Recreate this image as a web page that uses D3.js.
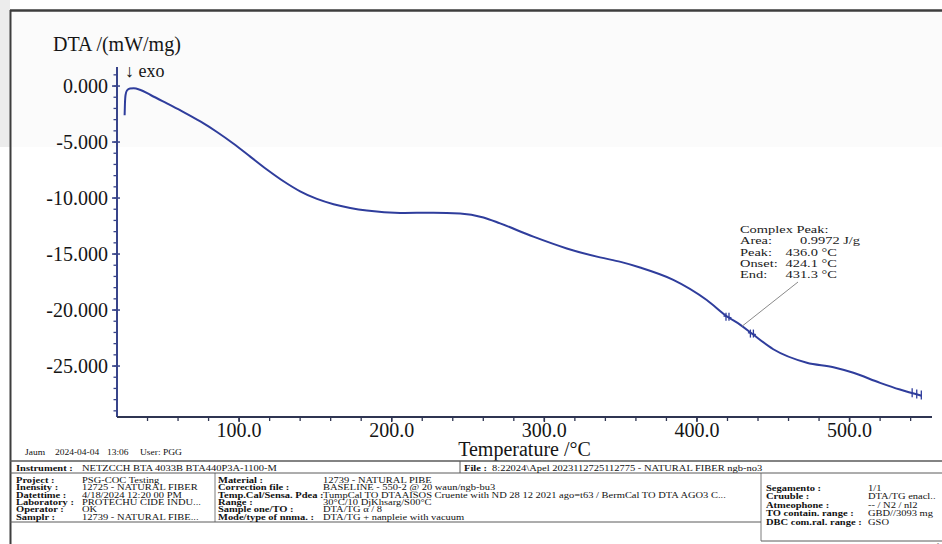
<!DOCTYPE html>
<html>
<head>
<meta charset="utf-8">
<script src="https://cdn.jsdelivr.net/npm/d3@7"></script>
<style>
    body { margin: 0; background: #ffffff; }
    svg { display: block; font-family: "Liberation Serif", "Times New Roman", serif; }
</style>
</head>
<body>
<div id="chart"></div>
<script>

var temperature = [25.0, 25.2, 25.6, 26.5, 28.5, 31.0, 35.0, 42.0, 52.7, 63.6, 74.6, 85.5, 96.4, 107.3, 118.2, 129.1, 140.0,
    151.0, 161.9, 172.8, 183.7, 205.5, 227.3, 244.8, 260.1, 271.0, 292.8, 314.7, 336.5, 350.0, 362.7, 384.5, 406.4,
    420.0, 428.2, 436.0, 450.0, 472.0, 489.4, 502.5, 520.0, 533.0, 547.2];

var dta = [-2.60, -1.60, -0.80, -0.40, -0.22, -0.20, -0.33, -0.80, -1.55, -2.32, -3.16, -4.10, -5.15, -6.30, -7.45, -8.50, -9.40,
    -10.08, -10.55, -10.88, -11.12, -11.33, -11.31, -11.37, -11.73, -12.26, -13.45, -14.50, -15.30, -15.70, -16.20, -17.30, -19.10,
    -20.60, -21.30, -22.10, -23.50, -24.70, -25.10, -25.60, -26.50, -27.10, -27.65];

var xTicks = [100, 200, 300, 400, 500];
var yTicks = [0, -5, -10, -15, -20, -25];

// peak markers and end-of-segment markers on the curve
var peakMarkTemps = [420.0, 436.0];
var peakMarkValues = [-20.60, -22.10];
var endMarkTemps = [541.0, 544.0, 547.0];
var endMarkValues = [-27.42, -27.53, -27.62];

var peakLabels = ["Complex Peak:", "Area:", "Peak:", "Onset:", "End:"];
var peakValues = ["", "0.9972 J/g", "436.0 °C", "424.1 °C", "431.3 °C"];

var instrumentRow = ["Instrument :", "NETZCCH BTA 4033B BTA440P3A-1100-M", "File :", "8:22024\\Apel 2023112725112775 - NATURAL FIBER ngb-no3"];

var infoLabels = ["Project :", "Inensity :", "Datettime :", "Laboratory :", "Operator :", "Samplr :"];
var infoValues = ["PSG-COC Testing", "12725 - NATURAL FIBER", "4/18/2024 12:20 00 PM", "PROTECHU CIDE INDU...", "OK", "12739 - NATURAL FIBE..."];
var materialLabels = ["Material :", "Correction file :", "Temp.Cal/Sensa. Pdea :", "Range :", "Sample one/TO :", "Mode/type of nnma. :"];
var materialValues = ["12739 - NATURAL PIBE", "BASELINE - 550-2 @ 20 waun/ngb-bu3",
    "TumpCal TO DTAAISOS Cruente with ND 28 12 2021 ago=t63 / BermCal TO DTA AGO3 C...",
    "30°C/10 DjKhsarg/S00°C", "DTA/TG α / 8", "DTA/TG + nanpleie with vacuum"];
var segmentLabels = ["Segamento :", "Cruuble :", "Atmeophone :", "TO contain. range :", "DBC com.ral. range :"];
var segmentValues = ["1/1", "DTA/TG enacl..", "-- / N2 / nl2", "GBD//3093 mg", "GSO"];

var width = 942, height = 544;
var margin = { top: 67, bottom: 127, left: 117, right: 10 };

var svg = d3.select("#chart")
    .append("svg")
    .attr("width", width)
    .attr("height", height);

var x = d3.scaleLinear()
    .domain([20, 554])
    .range([margin.left, width - margin.right]);

var y = d3.scaleLinear()
    .domain([-29.55, 1.7])
    .range([height - margin.bottom, margin.top]);

var plain = d3.formatLocale({ decimal: ".", thousands: ",", grouping: [3], currency: ["", ""], minus: "-" });

// page frame
svg.append("rect").attr("x", 12).attr("y", 12).attr("width", width - 12).attr("height", 135).attr("fill", "#fbfbfb");
svg.append("rect").attr("x", 0).attr("y", 0).attr("width", 10).attr("height", 147).attr("fill", "#ececec");
svg.append("line").attr("x1", 10).attr("x2", width).attr("y1", 10.5).attr("y2", 10.5)
    .attr("stroke", "#3d3d3d").attr("stroke-width", 2.5);
svg.append("line").attr("x1", 10.5).attr("x2", 10.5).attr("y1", 10).attr("y2", height)
    .attr("stroke", "#3d3d3d").attr("stroke-width", 2);

var axisColor = "#38448a";
var axes = svg.append("g");

axes.append("line")
    .attr("x1", x(20)).attr("x2", x(20))
    .attr("y1", y(1.7)).attr("y2", y(-29.55))
    .attr("stroke", axisColor).attr("stroke-width", 2);

axes.append("line")
    .attr("x1", x(20)).attr("x2", x(554))
    .attr("y1", y(-29.55)).attr("y2", y(-29.55))
    .attr("stroke", "#2f3552").attr("stroke-width", 2);

axes.selectAll("line.ymin")
    .data(d3.range(-29, 2, 1))
    .enter().append("line")
    .attr("class", "ymin")
    .attr("x1", x(20) - 3.5).attr("x2", x(20))
    .attr("y1", y).attr("y2", y)
    .attr("stroke", axisColor).attr("stroke-width", 1.3);

axes.selectAll("line.ymaj")
    .data(yTicks)
    .enter().append("line")
    .attr("class", "ymaj")
    .attr("x1", x(20) - 5).attr("x2", x(20) + 3)
    .attr("y1", y).attr("y2", y)
    .attr("stroke", axisColor).attr("stroke-width", 1.5);

axes.selectAll("text.yrule")
    .data(yTicks)
    .enter().append("text")
    .attr("class", "yrule")
    .attr("x", x(20) - 9)
    .attr("y", function (d) { return y(d) + 7; })
    .attr("text-anchor", "end")
    .attr("font-size", "20px")
    .attr("fill", "#151515")
    .text(plain.format(".3f"));

axes.selectAll("line.xmin")
    .data(d3.range(40, 554, 20))
    .enter().append("line")
    .attr("class", "xmin")
    .attr("x1", x).attr("x2", x)
    .attr("y1", y(-29.55)).attr("y2", y(-29.55) + 4)
    .attr("stroke", "#2f3552").attr("stroke-width", 1.3);

axes.selectAll("line.xmaj")
    .data(xTicks)
    .enter().append("line")
    .attr("class", "xmaj")
    .attr("x1", x).attr("x2", x)
    .attr("y1", y(-29.55)).attr("y2", y(-29.55) + 5)
    .attr("stroke", "#2f3552").attr("stroke-width", 1.5);

axes.selectAll("text.xrule")
    .data(xTicks)
    .enter().append("text")
    .attr("class", "xrule")
    .attr("x", x)
    .attr("y", y(-29.55) + 20)
    .attr("text-anchor", "middle")
    .attr("font-size", "20px")
    .attr("fill", "#151515")
    .text(plain.format(".1f"));

axes.append("text")
    .attr("x", (x(20) + x(554)) / 2)
    .attr("y", 456)
    .attr("text-anchor", "middle")
    .attr("font-size", "20px")
    .attr("fill", "#151515")
    .text("Temperature /°C");

axes.append("text")
    .attr("x", 53)
    .attr("y", 51)
    .attr("font-size", "20px")
    .attr("fill", "#151515")
    .text("DTA /(mW/mg)");

axes.append("text")
    .attr("x", 125)
    .attr("y", 77)
    .attr("font-size", "18px")
    .attr("fill", "#151515")
    .text("↓ exo");

// curve
var points = temperature.map(function (t, i) { return [t, dta[i]]; });

var line = d3.line()
    .x(function (d) { return x(d[0]); })
    .y(function (d) { return y(d[1]); })
    .curve(d3.curveMonotoneX);

svg.append("path")
    .datum(points)
    .attr("d", line)
    .attr("fill", "none")
    .attr("stroke", "#2f3d9c")
    .attr("stroke-width", 2);

var marks = svg.append("g")
    .attr("stroke", "#2f3d9c")
    .attr("stroke-width", 1.3);

peakMarkTemps.forEach(function (t, i) {
    [-1.5, 1.5].forEach(function (dx) {
        marks.append("line")
            .attr("x1", x(t) + dx).attr("x2", x(t) + dx)
            .attr("y1", y(peakMarkValues[i]) - 4).attr("y2", y(peakMarkValues[i]) + 4);
    });
    marks.append("line")
        .attr("x1", x(t) - 4).attr("x2", x(t) + 4)
        .attr("y1", y(peakMarkValues[i]) - 1).attr("y2", y(peakMarkValues[i]) + 1);
});

marks.selectAll("line.end")
    .data(endMarkTemps)
    .enter().append("line")
    .attr("class", "end")
    .attr("x1", function (d) { return x(d); })
    .attr("x2", function (d) { return x(d); })
    .attr("y1", function (d, i) { return y(endMarkValues[i]) - 5; })
    .attr("y2", function (d, i) { return y(endMarkValues[i]) + 4; });

// peak annotation
var note = svg.append("g").attr("font-size", "14px").attr("fill", "#1a1a1a");

note.append("line")
    .attr("x1", 798).attr("y1", 282)
    .attr("x2", x(429.5)).attr("y2", y(-21.45))
    .attr("stroke", "#8a8a8a").attr("stroke-width", 1);

note.selectAll("text.lab")
    .data(peakLabels)
    .enter().append("text")
    .attr("class", "lab")
    .attr("transform", function (d, i) { return "translate(740," + (233 + i * 11.3) + ") scale(1.03,0.8)"; })
    .text(function (d) { return d; });

note.selectAll("text.val")
    .data(peakValues)
    .enter().append("text")
    .attr("class", "val")
    .attr("transform", function (d, i) { return "translate(" + (i === 1 ? 800 : 785.5) + "," + (233 + i * 11.3) + ") scale(1.03,0.8)"; })
    .text(function (d) { return d; });

// info table
var table = svg.append("g").attr("fill", "#111");

function cell(px, py, str, bold, size) {
    table.append("text")
        .attr("transform", "translate(" + px + "," + py + ") scale(1,0.72)")
        .attr("font-size", (size || 10.5) + "px")
        .attr("font-weight", bold ? "bold" : "normal")
        .text(str);
}

function rule(x1, y1, x2, y2, w) {
    table.append("line")
        .attr("x1", x1).attr("y1", y1).attr("x2", x2).attr("y2", y2)
        .attr("stroke", "#5a5a5a").attr("stroke-width", w || 1);
}

var footer = ["Jaum", "2024-04-04", "13:06", "User: PGG"];
var footerX = [25, 55, 107, 140];
footer.forEach(function (s, i) {
    table.append("text")
        .attr("transform", "translate(" + footerX[i] + ",455) scale(1,0.85)")
        .attr("font-size", "9.5px")
        .text(s);
});

rule(10, 461, width, 461, 1.6);
rule(10, 473, width, 473, 1);
rule(460, 461, 460, 473, 1);
rule(215, 473, 215, 522, 0.8);
rule(10, 522, 761, 522, 1);
rule(761, 473, 761, 541, 0.8);
rule(761, 541, width, 541, 1);

cell(16, 471, instrumentRow[0], true);
cell(82, 471, instrumentRow[1], false);
cell(464, 471, instrumentRow[2], true);
cell(492, 471, instrumentRow[3], false);

infoLabels.forEach(function (s, i) {
    var ry = 483 + i * 7.3;
    cell(16, ry, s, true);
    cell(82, ry, infoValues[i], false);
    cell(218, ry, materialLabels[i], true);
    cell(323, ry, materialValues[i], false);
});

segmentLabels.forEach(function (s, i) {
    var ry = 491 + i * 8.4;
    cell(766, ry, s, true);
    cell(868, ry, segmentValues[i], false);
});

table.append("text")
    .attr("x", 786)
    .attr("y", 551)
    .attr("font-size", "10px")
    .attr("fill", "#444")
    .text("Gemtin Jnolnsn!IDESE0!0!!/Bcnn seftw...");

</script>
</body>
</html>
